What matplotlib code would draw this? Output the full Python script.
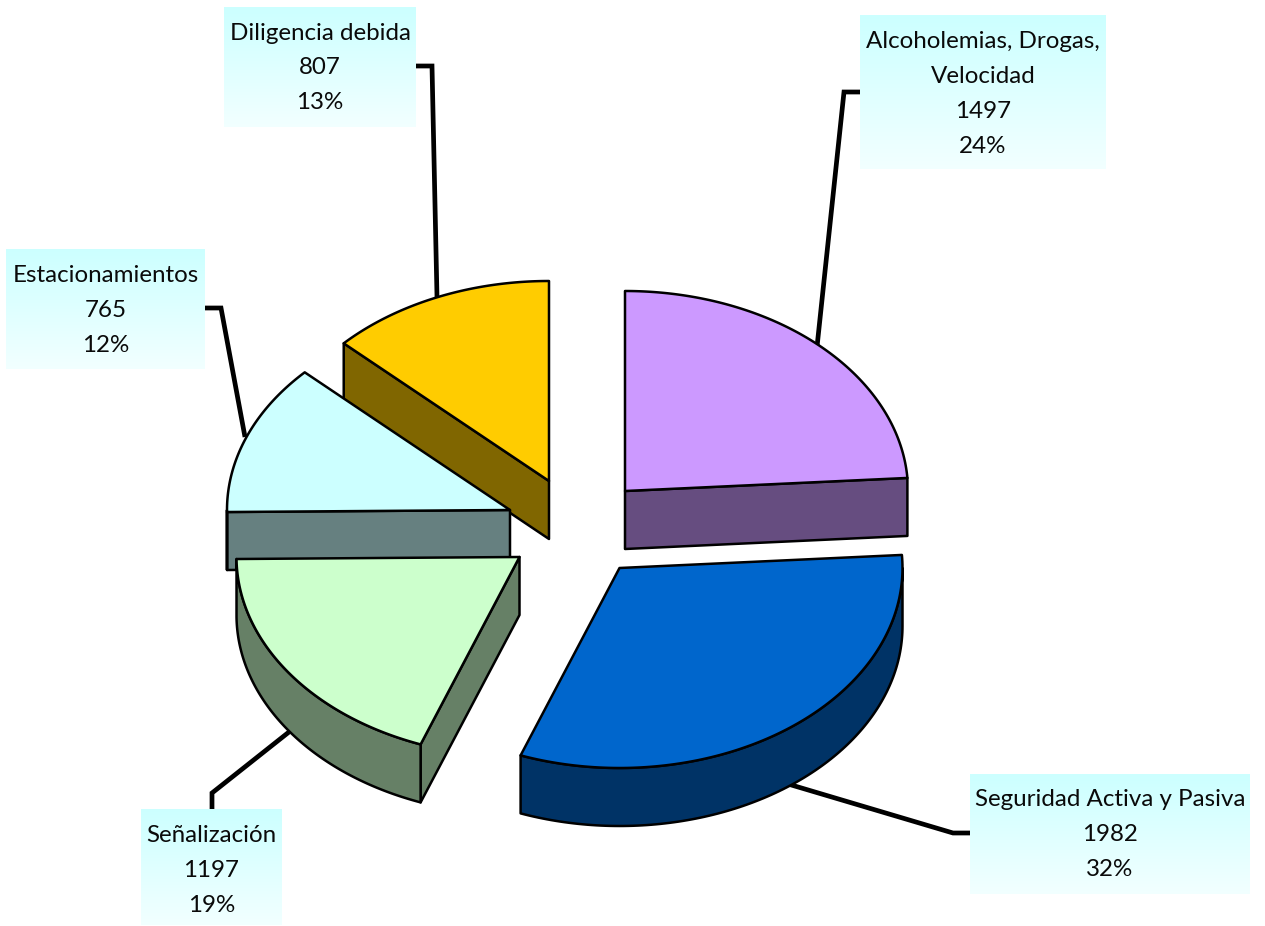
import numpy as np
import matplotlib
matplotlib.use("Agg")
import matplotlib.pyplot as plt
from matplotlib.patches import Polygon
from matplotlib.colors import LinearSegmentedColormap

# --- data ---
categories = ["Alcoholemias, Drogas,\nVelocidad", "Seguridad Activa y Pasiva",
              "Señalización", "Estacionamientos", "Diligencia debida"]
values = [1497, 1982, 1197, 765, 807]
top_colors = ["#CC99FF", "#0066CC", "#CCFFCC", "#CCFFFF", "#FFCC00"]
side_colors = ["#664D80", "#003366", "#668066", "#668080", "#806600"]

# --- layout (pixel coordinates) ---
W, H = 1265, 926
RX, RY, DEPTH = 283, 200, 58
apexes = [(625, 491), (619.5, 568), (519.5, 557), (510, 510), (549, 481)]
draw_order = [0, 4, 3, 2, 1]
boxes = [(860, 15, 1106, 169), (970, 774, 1250, 894), (141, 809, 282, 925),
         (6, 249, 205, 369), (224, 7, 416, 127)]
first_line_y = [42, 800, 836, 276, 33]
leaders = [[(860, 92), (844, 92), (817, 347)],
           [(970, 833), (953, 833), (788, 784)],
           [(212, 809), (212, 793), (289, 732)],
           [(205, 308), (221, 308), (245, 437)],
           [(416, 66), (432, 66), (437, 297)]]

plt.rcParams["font.family"] = ["Lato", "DejaVu Sans"]
fig = plt.figure(figsize=(W / 100, H / 100), dpi=100, facecolor="white")
ax = fig.add_axes([0, 0, 1, 1])
ax.set_xlim(0, W)
ax.set_ylim(H, 0)
ax.axis("off")


def rim(apex, t0, t1, n=120):
    t = np.radians(np.linspace(t0, t1, n))
    return np.column_stack([apex[0] + RX * np.sin(t), apex[1] - RY * np.cos(t)])


def poly(pts, color, z):
    ax.add_patch(Polygon(pts, closed=True, facecolor=color, edgecolor="black",
                         linewidth=1.8, joinstyle="round", zorder=z))


total = sum(values)
edges = np.concatenate([[0], np.cumsum(values)]) / total * 360
down = np.array([0, DEPTH])

# leader lines sit behind the pie
for pts in leaders:
    xs, ys = zip(*pts)
    ax.plot(xs, ys, color="black", lw=3.4, solid_joinstyle="miter",
            solid_capstyle="butt", zorder=1)

for z, i in enumerate(draw_order):
    t0, t1 = edges[i], edges[i + 1]
    apex = np.array(apexes[i], float)
    base = 2 + z * 3
    # radial cut faces that look towards the viewer
    if 0 < t1 < 180:
        p = rim(apex, t1, t1, 1)[0]
        poly([apex, p, p + down, apex + down], side_colors[i], base)
    if 180 < t0 < 360:
        p = rim(apex, t0, t0, 1)[0]
        poly([apex, p, p + down, apex + down], side_colors[i], base)
    # curved outer wall, front half only
    a, b = max(t0, 90), min(t1, 270)
    if a < b:
        r = rim(apex, a, b)
        poly(np.vstack([r, (r + down)[::-1]]), side_colors[i], base + 1)
    # top face
    poly(np.vstack([apex, rim(apex, t0, t1)]), top_colors[i], base + 2)

# data labels on gradient boxes
cmap = LinearSegmentedColormap.from_list("lbl", ["#CCFFFF", "#F2FFFF"])
grad = np.linspace(0, 1, 256).reshape(-1, 1)
for i, name in enumerate(categories):
    x0, y0, x1, y1 = boxes[i]
    ax.imshow(grad, extent=(x0, x1, y1, y0), cmap=cmap, aspect="auto",
              origin="upper", zorder=30, interpolation="bilinear")
    lines = name.split("\n") + [str(values[i]), f"{round(values[i] / total * 100)}%"]
    for k, line in enumerate(lines):
        ax.text((x0 + x1) / 2, first_line_y[i] + k * 34.8, line, ha="center",
                va="center", fontsize=17.4, color="#0a0a0a", zorder=31)

ax.set_xlim(0, W)
ax.set_ylim(H, 0)
fig.savefig("out.png", dpi=100, facecolor="white")
